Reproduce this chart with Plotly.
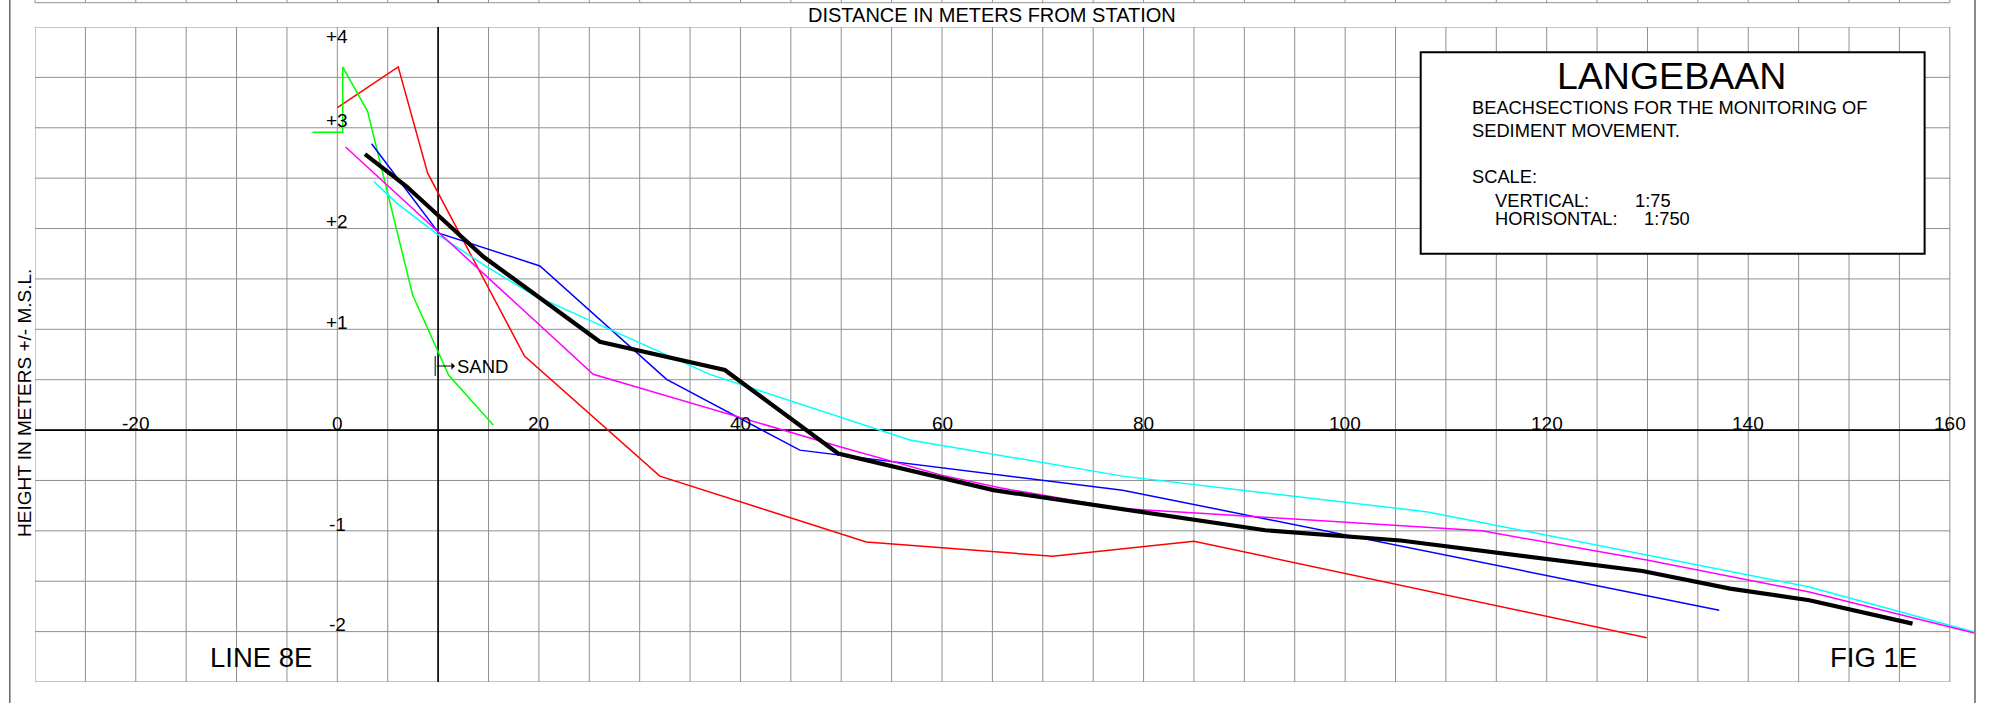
import plotly.graph_objects as go

# Beach profiles, line 8E: distance from station (m) and height relative to M.S.L. (m)
red_x = [0.0, 6.04, 8.96, 18.57, 32.0, 52.49, 70.96, 85.0, 129.93]
red_y = [3.20, 3.604, 2.55, 0.735, -0.457, -1.11, -1.252, -1.103, -2.06]

green_x = [-2.47, 0.53, 0.53, 3.0, 7.47, 11.04, 15.47]
green_y = [2.956, 2.956, 3.604, 3.163, 1.341, 0.546, 0.05]

blue_x = [3.40, 10.08, 20.1, 32.67, 45.89, 77.92, 137.12]
blue_y = [2.842, 1.954, 1.629, 0.504, -0.199, -0.596, -1.788]

cyan_x = [3.63, 5.88, 10.01, 14.81, 19.43, 29.35, 36.96, 56.81, 77.92, 108.2, 146.06, 162.4]
cyan_y = [2.467, 2.252, 1.937, 1.622, 1.341, 0.894, 0.553, -0.099, -0.457, -0.812, -1.557, -2.004]

magenta_x = [0.82, 25.39, 49.86, 59.95, 65.73, 77.69, 85.22, 113.56, 129.93, 146.06, 162.4]
magenta_y = [2.809, 0.554, -0.166, -0.447, -0.573, -0.778, -0.822, -1.0, -1.29, -1.607, -2.014]

black_x = [2.74, 6.88, 14.47, 26.05, 38.45, 49.69, 65.11, 92.08, 105.5, 129.5, 138.2, 146.06, 156.3]
black_y = [2.739, 2.417, 1.722, 0.877, 0.596, -0.232, -0.596, -0.994, -1.096, -1.398, -1.573, -1.689, -1.921]

# Tick labels written on the drawing
x_tick_vals = [-20, 0, 20, 40, 60, 80, 100, 120, 140, 160]
x_tick_text = ["-20", "0", "20", "40", "60", "80", "100", "120", "140", "160"]
y_tick_vals = [4, 3, 2, 1, -1, -2]
y_tick_text = ["+4", "+3", "+2", "+1", "-1", "-2"]

# Sheet geometry
X_RANGE = [-30, 162.5]
Y_RANGE = [-2.5, 4.0]
GRID_X = list(range(-30, 161, 5))
GRID_Y = [v / 2 for v in range(-5, 9)]
STATION_X = 10
SAND_X, SAND_Y0, SAND_Y1 = 9.71, 0.536, 0.735
SAND_ARROW_END = 11.67
TITLE_BOX = dict(x0=107.5, x1=157.5, y0=1.75, y1=3.75)

FONT = "Liberation Sans, Arial, Helvetica, sans-serif"
GRID_COLOR = "#8f8f8f"
W, H = 1989, 703
M = dict(l=35, r=14, t=27, b=21)


def paper_x(v):
    return (v - X_RANGE[0]) / (X_RANGE[1] - X_RANGE[0])


def paper_y_px(py):
    # pixel row on the page -> paper coordinate
    return (H - M["b"] - py) / (H - M["t"] - M["b"])


def paper_x_px(px):
    return (px - M["l"]) / (W - M["l"] - M["r"])


fig = go.Figure()

profiles = [
    (red_x, red_y, "#ff0000", 1.5),
    (green_x, green_y, "#00ff00", 1.5),
    (blue_x, blue_y, "#0000ff", 1.5),
    (cyan_x, cyan_y, "#00ffff", 1.5),
    (magenta_x, magenta_y, "#ff00ff", 1.5),
    (black_x, black_y, "#000000", 4.2),
]
for xs, ys, color, width in profiles:
    fig.add_trace(go.Scatter(
        x=xs, y=ys, mode="lines",
        line=dict(color=color, width=width),
        hoverinfo="skip", showlegend=False,
    ))

shapes = []
# square drawing grid, 5 m by 0.5 m
for gx in GRID_X:
    shapes.append(dict(type="line", xref="x", yref="y", x0=gx, x1=gx,
                       y0=Y_RANGE[0], y1=Y_RANGE[1],
                       line=dict(color=GRID_COLOR, width=1), layer="below"))
for gy in GRID_Y:
    shapes.append(dict(type="line", xref="x", yref="y", x0=GRID_X[0], x1=GRID_X[-1],
                       y0=gy, y1=gy,
                       line=dict(color=GRID_COLOR, width=1), layer="below"))
# datum and station lines
shapes.append(dict(type="line", xref="x", yref="y", x0=GRID_X[0], x1=GRID_X[-1], y0=0, y1=0,
                   line=dict(color="black", width=1.6), layer="below"))
shapes.append(dict(type="line", xref="x", yref="y", x0=STATION_X, x1=STATION_X,
                   y0=Y_RANGE[0], y1=Y_RANGE[1],
                   line=dict(color="black", width=1.6), layer="below"))
# edge of the sheet above
strip_y = paper_y_px(2.7)
top_y = paper_y_px(0)
shapes.append(dict(type="line", xref="paper", yref="paper",
                   x0=paper_x(GRID_X[0]), x1=paper_x(GRID_X[-1]), y0=strip_y, y1=strip_y,
                   line=dict(color=GRID_COLOR, width=1)))
for gx in GRID_X:
    shapes.append(dict(type="line", xref="paper", yref="paper",
                       x0=paper_x(gx), x1=paper_x(gx), y0=strip_y, y1=top_y,
                       line=dict(color="black" if gx == STATION_X else GRID_COLOR, width=1)))
# sheet border left and right
shapes.append(dict(type="line", xref="paper", yref="paper",
                   x0=paper_x_px(9.8), x1=paper_x_px(9.8), y0=paper_y_px(H), y1=top_y,
                   line=dict(color="#666666", width=1.5)))
shapes.append(dict(type="line", xref="paper", yref="paper",
                   x0=1, x1=1, y0=paper_y_px(H), y1=top_y,
                   line=dict(color="#666666", width=1.5)))
# sand marker
shapes.append(dict(type="line", xref="x", yref="y", x0=SAND_X, x1=SAND_X,
                   y0=SAND_Y0, y1=SAND_Y1, line=dict(color="black", width=1)))
# title block
shapes.append(dict(type="rect", xref="x", yref="y", **TITLE_BOX,
                   line=dict(color="black", width=2), fillcolor="white", layer="above"))

ann = []


def text(x, y, s, size, xanchor="center", yanchor="middle", xref="x", yref="y",
         yshift=0, angle=0):
    ann.append(dict(x=x, y=y, xref=xref, yref=yref, text=s, showarrow=False,
                    xanchor=xanchor, yanchor=yanchor, yshift=yshift, textangle=angle,
                    font=dict(family=FONT, size=size, color="black")))


for v, s in zip(x_tick_vals, x_tick_text):
    text(v, 0, s, 19, yshift=6.5)
for v, s in zip(y_tick_vals, y_tick_text):
    text(0, v, s, 19, yshift=(-9 if v == Y_RANGE[1] else 6.8))

# sand boundary arrow
sand_mid = (SAND_Y0 + SAND_Y1) / 2
ann.append(dict(x=SAND_ARROW_END, y=sand_mid, xref="x", yref="y",
                ax=SAND_X, ay=sand_mid, axref="x", ayref="y", text="",
                showarrow=True, arrowhead=1, arrowsize=1.2, arrowwidth=1, arrowcolor="black"))
text(SAND_ARROW_END, sand_mid, "SAND", 18.5, xanchor="left")

text(65.0, paper_y_px(15), "DISTANCE IN METERS FROM STATION", 20, yref="paper")
text(paper_x_px(24), paper_y_px(403), "HEIGHT IN METERS +/- M.S.L.", 19,
     xref="paper", yref="paper", angle=-90)

text(132.4, 3.51, "LANGEBAAN", 37.5)
text(112.4, 3.20, "BEACHSECTIONS FOR THE MONITORING OF", 18.3, xanchor="left")
text(112.4, 2.97, "SEDIMENT MOVEMENT.", 18.3, xanchor="left")
text(112.4, 2.52, "SCALE:", 18.3, xanchor="left")
text(114.67, 2.28, "VERTICAL:", 18.3, xanchor="left")
text(128.54, 2.28, "1:75", 18.3, xanchor="left")
text(114.67, 2.096, "HORISONTAL:", 18.3, xanchor="left")
text(129.5, 2.096, "1:750", 18.3, xanchor="left")

text(-7.55, -2.26, "LINE 8E", 27.5)
text(152.47, -2.26, "FIG 1E", 27.5)

fig.update_layout(
    width=W, height=H,
    margin=dict(l=M["l"], r=M["r"], t=M["t"], b=M["b"], pad=0),
    paper_bgcolor="white", plot_bgcolor="white",
    shapes=shapes, annotations=ann,
    xaxis=dict(range=X_RANGE, showgrid=False, zeroline=False, showticklabels=False,
               ticks="", showline=False, fixedrange=True),
    yaxis=dict(range=Y_RANGE, showgrid=False, zeroline=False, showticklabels=False,
               ticks="", showline=False, fixedrange=True),
    showlegend=False,
)

fig.write_html("out.html")
